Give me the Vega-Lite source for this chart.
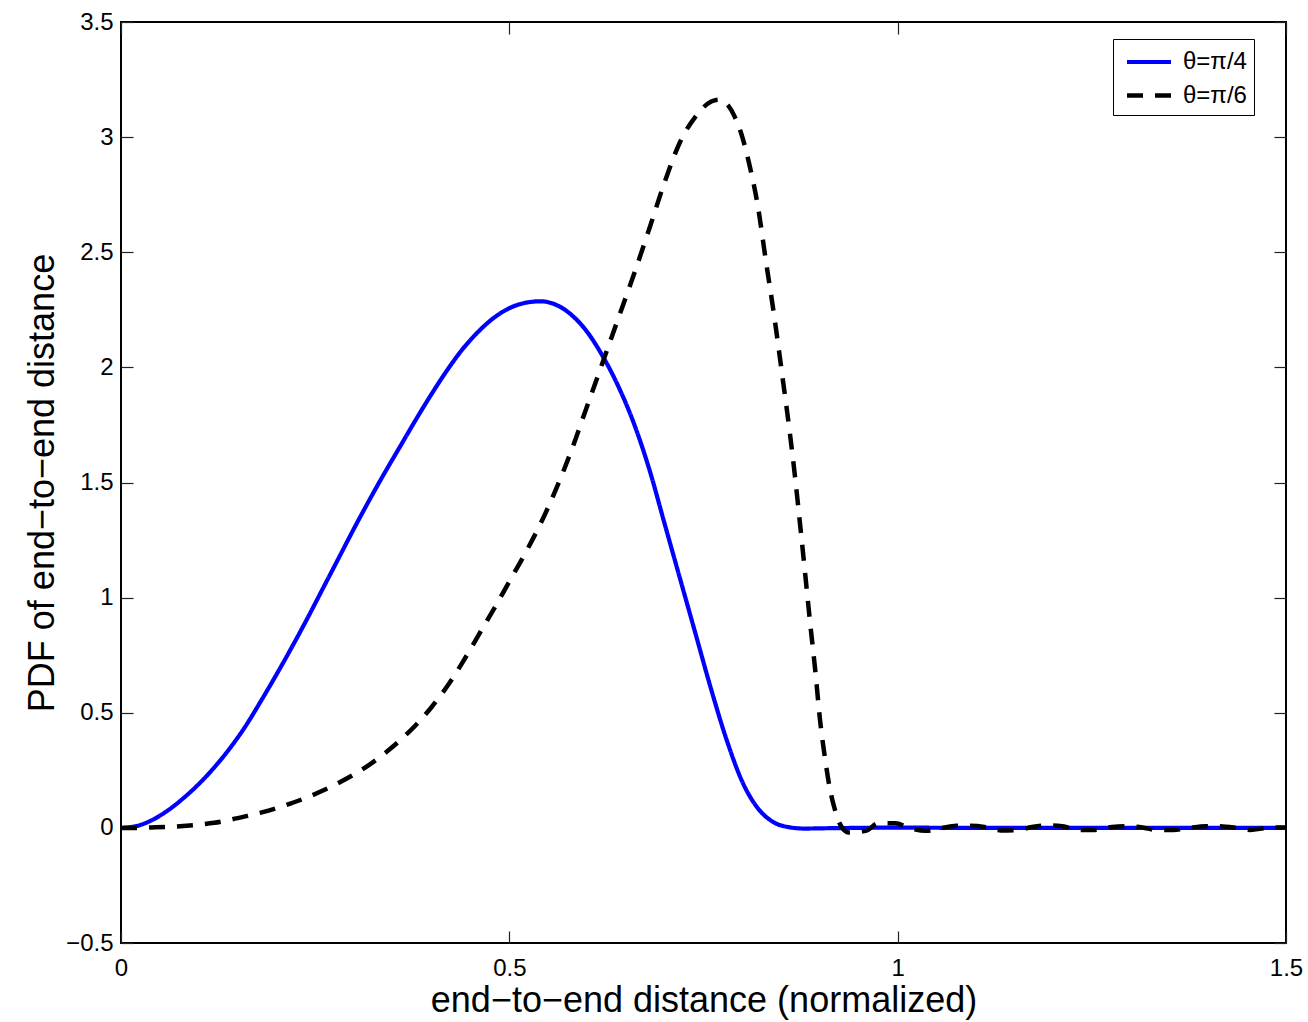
{
  "$schema": "https://vega.github.io/schema/vega-lite/v6.json",
  "width": 1165,
  "height": 921,
  "autosize": {"type": "none"},
  "padding": {"left": 121, "top": 22, "right": 22, "bottom": 79},
  "background": "white",
  "config": {
    "font": "Liberation Sans",
    "view": {"stroke": "black", "strokeWidth": 2},
    "axis": {
      "grid": false,
      "domain": false,
      "tickColor": "#222222",
      "tickWidth": 1.2,
      "tickSize": -12,
      "labelFont": "Liberation Sans",
      "labelFontSize": 24,
      "labelColor": "black",
      "labelFlush": false,
      "format": ".1~f",
      "titleFont": "Liberation Sans",
      "titleFontSize": 36,
      "titleFontWeight": "normal",
      "titleColor": "black"
    }
  },
  "data": {
    "values": [
      {"x": 0, "y": 0, "s": "θ=π/4"},
      {"x": 0.02, "y": 0.008, "s": "θ=π/4"},
      {"x": 0.04, "y": 0.034, "s": "θ=π/4"},
      {"x": 0.06, "y": 0.075, "s": "θ=π/4"},
      {"x": 0.08, "y": 0.128, "s": "θ=π/4"},
      {"x": 0.1, "y": 0.19, "s": "θ=π/4"},
      {"x": 0.12, "y": 0.262, "s": "θ=π/4"},
      {"x": 0.14, "y": 0.345, "s": "θ=π/4"},
      {"x": 0.16, "y": 0.44, "s": "θ=π/4"},
      {"x": 0.18, "y": 0.55, "s": "θ=π/4"},
      {"x": 0.2, "y": 0.665, "s": "θ=π/4"},
      {"x": 0.22, "y": 0.785, "s": "θ=π/4"},
      {"x": 0.24, "y": 0.91, "s": "θ=π/4"},
      {"x": 0.26, "y": 1.04, "s": "θ=π/4"},
      {"x": 0.28, "y": 1.17, "s": "θ=π/4"},
      {"x": 0.3, "y": 1.3, "s": "θ=π/4"},
      {"x": 0.32, "y": 1.425, "s": "θ=π/4"},
      {"x": 0.34, "y": 1.545, "s": "θ=π/4"},
      {"x": 0.36, "y": 1.66, "s": "θ=π/4"},
      {"x": 0.38, "y": 1.775, "s": "θ=π/4"},
      {"x": 0.4, "y": 1.885, "s": "θ=π/4"},
      {"x": 0.42, "y": 1.988, "s": "θ=π/4"},
      {"x": 0.44, "y": 2.08, "s": "θ=π/4"},
      {"x": 0.46, "y": 2.155, "s": "θ=π/4"},
      {"x": 0.48, "y": 2.215, "s": "θ=π/4"},
      {"x": 0.5, "y": 2.257, "s": "θ=π/4"},
      {"x": 0.52, "y": 2.28, "s": "θ=π/4"},
      {"x": 0.54, "y": 2.287, "s": "θ=π/4"},
      {"x": 0.56, "y": 2.272, "s": "θ=π/4"},
      {"x": 0.58, "y": 2.228, "s": "θ=π/4"},
      {"x": 0.6, "y": 2.155, "s": "θ=π/4"},
      {"x": 0.62, "y": 2.05, "s": "θ=π/4"},
      {"x": 0.64, "y": 1.92, "s": "θ=π/4"},
      {"x": 0.66, "y": 1.76, "s": "θ=π/4"},
      {"x": 0.68, "y": 1.56, "s": "θ=π/4"},
      {"x": 0.7, "y": 1.32, "s": "θ=π/4"},
      {"x": 0.72, "y": 1.08, "s": "θ=π/4"},
      {"x": 0.74, "y": 0.84, "s": "θ=π/4"},
      {"x": 0.76, "y": 0.6, "s": "θ=π/4"},
      {"x": 0.78, "y": 0.38, "s": "θ=π/4"},
      {"x": 0.8, "y": 0.2, "s": "θ=π/4"},
      {"x": 0.82, "y": 0.085, "s": "θ=π/4"},
      {"x": 0.84, "y": 0.025, "s": "θ=π/4"},
      {"x": 0.86, "y": 0.003, "s": "θ=π/4"},
      {"x": 0.88, "y": -0.003, "s": "θ=π/4"},
      {"x": 0.9, "y": -0.002, "s": "θ=π/4"},
      {"x": 0.95, "y": 0, "s": "θ=π/4"},
      {"x": 1.0, "y": 0.001, "s": "θ=π/4"},
      {"x": 1.1, "y": 0, "s": "θ=π/4"},
      {"x": 1.2, "y": 0, "s": "θ=π/4"},
      {"x": 1.3, "y": 0, "s": "θ=π/4"},
      {"x": 1.4, "y": 0, "s": "θ=π/4"},
      {"x": 1.5, "y": 0, "s": "θ=π/4"},
      {"x": 0, "y": 0, "s": "θ=π/6"},
      {"x": 0.02, "y": 0.0, "s": "θ=π/6"},
      {"x": 0.04, "y": 0.002, "s": "θ=π/6"},
      {"x": 0.06, "y": 0.004, "s": "θ=π/6"},
      {"x": 0.08, "y": 0.008, "s": "θ=π/6"},
      {"x": 0.1, "y": 0.014, "s": "θ=π/6"},
      {"x": 0.12, "y": 0.022, "s": "θ=π/6"},
      {"x": 0.14, "y": 0.035, "s": "θ=π/6"},
      {"x": 0.16, "y": 0.05, "s": "θ=π/6"},
      {"x": 0.18, "y": 0.066, "s": "θ=π/6"},
      {"x": 0.2, "y": 0.085, "s": "θ=π/6"},
      {"x": 0.22, "y": 0.108, "s": "θ=π/6"},
      {"x": 0.24, "y": 0.133, "s": "θ=π/6"},
      {"x": 0.26, "y": 0.162, "s": "θ=π/6"},
      {"x": 0.28, "y": 0.195, "s": "θ=π/6"},
      {"x": 0.3, "y": 0.232, "s": "θ=π/6"},
      {"x": 0.32, "y": 0.275, "s": "θ=π/6"},
      {"x": 0.34, "y": 0.325, "s": "θ=π/6"},
      {"x": 0.36, "y": 0.382, "s": "θ=π/6"},
      {"x": 0.38, "y": 0.448, "s": "θ=π/6"},
      {"x": 0.4, "y": 0.525, "s": "θ=π/6"},
      {"x": 0.42, "y": 0.615, "s": "θ=π/6"},
      {"x": 0.44, "y": 0.72, "s": "θ=π/6"},
      {"x": 0.46, "y": 0.835, "s": "θ=π/6"},
      {"x": 0.48, "y": 0.95, "s": "θ=π/6"},
      {"x": 0.5, "y": 1.07, "s": "θ=π/6"},
      {"x": 0.52, "y": 1.19, "s": "θ=π/6"},
      {"x": 0.54, "y": 1.32, "s": "θ=π/6"},
      {"x": 0.56, "y": 1.47, "s": "θ=π/6"},
      {"x": 0.58, "y": 1.64, "s": "θ=π/6"},
      {"x": 0.6, "y": 1.83, "s": "θ=π/6"},
      {"x": 0.62, "y": 2.02, "s": "θ=π/6"},
      {"x": 0.64, "y": 2.21, "s": "θ=π/6"},
      {"x": 0.66, "y": 2.4, "s": "θ=π/6"},
      {"x": 0.68, "y": 2.6, "s": "θ=π/6"},
      {"x": 0.7, "y": 2.805, "s": "θ=π/6"},
      {"x": 0.72, "y": 2.98, "s": "θ=π/6"},
      {"x": 0.74, "y": 3.09, "s": "θ=π/6"},
      {"x": 0.76, "y": 3.155, "s": "θ=π/6"},
      {"x": 0.77, "y": 3.163, "s": "θ=π/6"},
      {"x": 0.78, "y": 3.145, "s": "θ=π/6"},
      {"x": 0.79, "y": 3.09, "s": "θ=π/6"},
      {"x": 0.8, "y": 3.0, "s": "θ=π/6"},
      {"x": 0.81, "y": 2.867, "s": "θ=π/6"},
      {"x": 0.82, "y": 2.7, "s": "θ=π/6"},
      {"x": 0.83, "y": 2.47, "s": "θ=π/6"},
      {"x": 0.842, "y": 2.2, "s": "θ=π/6"},
      {"x": 0.852, "y": 1.95, "s": "θ=π/6"},
      {"x": 0.861, "y": 1.72, "s": "θ=π/6"},
      {"x": 0.868, "y": 1.52, "s": "θ=π/6"},
      {"x": 0.874, "y": 1.33, "s": "θ=π/6"},
      {"x": 0.881, "y": 1.1, "s": "θ=π/6"},
      {"x": 0.887, "y": 0.9, "s": "θ=π/6"},
      {"x": 0.894, "y": 0.68, "s": "θ=π/6"},
      {"x": 0.9, "y": 0.47, "s": "θ=π/6"},
      {"x": 0.907, "y": 0.29, "s": "θ=π/6"},
      {"x": 0.913, "y": 0.165, "s": "θ=π/6"},
      {"x": 0.92, "y": 0.07, "s": "θ=π/6"},
      {"x": 0.926, "y": 0.015, "s": "θ=π/6"},
      {"x": 0.937, "y": -0.02, "s": "θ=π/6"},
      {"x": 0.959, "y": -0.013, "s": "θ=π/6"},
      {"x": 0.975, "y": 0.02, "s": "θ=π/6"},
      {"x": 0.997, "y": 0.02, "s": "θ=π/6"},
      {"x": 1.015, "y": 0, "s": "θ=π/6"},
      {"x": 1.036, "y": -0.013, "s": "θ=π/6"},
      {"x": 1.053, "y": -0.004, "s": "θ=π/6"},
      {"x": 1.076, "y": 0.009, "s": "θ=π/6"},
      {"x": 1.093, "y": 0.009, "s": "θ=π/6"},
      {"x": 1.115, "y": 0.002, "s": "θ=π/6"},
      {"x": 1.133, "y": -0.011, "s": "θ=π/6"},
      {"x": 1.155, "y": -0.009, "s": "θ=π/6"},
      {"x": 1.173, "y": 0.004, "s": "θ=π/6"},
      {"x": 1.195, "y": 0.011, "s": "θ=π/6"},
      {"x": 1.212, "y": 0.007, "s": "θ=π/6"},
      {"x": 1.233, "y": -0.009, "s": "θ=π/6"},
      {"x": 1.254, "y": -0.009, "s": "θ=π/6"},
      {"x": 1.276, "y": 0.004, "s": "θ=π/6"},
      {"x": 1.293, "y": 0.007, "s": "θ=π/6"},
      {"x": 1.315, "y": 0.002, "s": "θ=π/6"},
      {"x": 1.333, "y": -0.009, "s": "θ=π/6"},
      {"x": 1.355, "y": -0.009, "s": "θ=π/6"},
      {"x": 1.375, "y": 0, "s": "θ=π/6"},
      {"x": 1.397, "y": 0.007, "s": "θ=π/6"},
      {"x": 1.413, "y": 0.007, "s": "θ=π/6"},
      {"x": 1.436, "y": 0, "s": "θ=π/6"},
      {"x": 1.454, "y": -0.009, "s": "θ=π/6"},
      {"x": 1.476, "y": 0, "s": "θ=π/6"},
      {"x": 1.5, "y": 0.002, "s": "θ=π/6"}
    ]
  },
  "layer": [
    {
      "mark": {"type": "line", "interpolate": "monotone", "clip": true},
      "encoding": {
        "x": {
          "field": "x", "type": "quantitative",
          "scale": {"domain": [0, 1.5], "nice": false, "zero": false},
          "axis": {"orient": "bottom", "values": [0, 0.5, 1, 1.5], "labelPadding": 25, "title": "end−to−end distance (normalized)", "titleY": 68, "titleBaseline": "alphabetic"}
        },
        "y": {
          "field": "y", "type": "quantitative",
          "scale": {"domain": [-0.5, 3.5], "nice": false, "zero": false},
          "axis": {"orient": "left", "values": [-0.5, 0, 0.5, 1, 1.5, 2, 2.5, 3, 3.5], "labelPadding": 20, "title": "PDF of end−to−end distance", "titleX": -68, "titleBaseline": "alphabetic"}
        },
        "color": {
          "field": "s", "type": "nominal",
          "scale": {"domain": ["θ=π/4", "θ=π/6"], "range": ["#0000ff", "#000000"]},
          "legend": {
            "orient": "none",
            "legendX": 992,
            "legendY": 17,
            "padding": 7,
            "fillColor": "white",
            "strokeColor": "black",
            "title": null,
            "symbolType": "M-1.6,0H1.6",
            "symbolSize": 756,
            "symbolStrokeWidth": 4,
            "symbolOffset": 13,
            "labelOffset": 18,
            "labelFont": "Liberation Sans",
            "labelFontSize": 24,
            "labelColor": "black",
            "rowPadding": 5.5
          }
        },
        "strokeDash": {
          "field": "s", "type": "nominal",
          "scale": {"domain": ["θ=π/4", "θ=π/6"], "range": [[1, 0], [16, 12]]}
        },
        "strokeWidth": {
          "field": "s", "type": "nominal",
          "scale": {"domain": ["θ=π/4", "θ=π/6"], "range": [4.2, 4.5]},
          "legend": null
        }
      }
    },
    {
      "mark": {"type": "line", "opacity": 0},
      "encoding": {
        "x": {
          "field": "x", "type": "quantitative",
          "scale": {"domain": [0, 1.5], "nice": false, "zero": false},
          "axis": {"orient": "top", "values": [0, 0.5, 1, 1.5], "labels": false, "title": null}
        },
        "y": {
          "field": "y", "type": "quantitative",
          "scale": {"domain": [-0.5, 3.5], "nice": false, "zero": false},
          "axis": {"orient": "right", "values": [-0.5, 0, 0.5, 1, 1.5, 2, 2.5, 3, 3.5], "labels": false, "title": null}
        },
        "detail": {"field": "s", "type": "nominal"}
      }
    }
  ],
  "resolve": {"axis": {"x": "independent", "y": "independent"}}
}
